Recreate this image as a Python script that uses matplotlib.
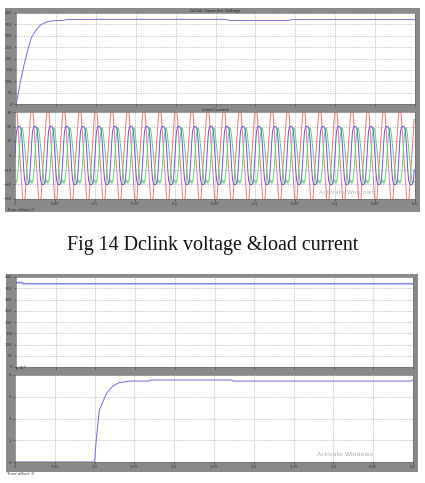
import numpy as np
import matplotlib
matplotlib.use("Agg")
import matplotlib.pyplot as plt
from matplotlib.patches import Rectangle

# ---------------- data ----------------
# DC link voltage (first scope)
vdc_t = [0, 0.002, 0.006, 0.010, 0.015, 0.019, 0.025, 0.031, 0.038, 0.046, 0.060,
         0.0625, 0.10, 0.20, 0.262, 0.268, 0.34, 0.346, 0.50]
vdc_v = [0, 30, 106, 170, 240, 290, 325, 348, 360, 366, 368,
         371, 372, 372, 372, 367, 367, 371, 371]

# load current, one 20 ms cycle sampled every 1 ms (three phases)
cycle_ms = list(range(20))
ia_cycle = [0, 10, 17, 19, 20, 20, 20, 19, 17, 10, 0, -10, -17, -19, -20, -20, -20, -19, -17, -10]
ib_cycle = [-17, -19, -18, -15, -9, 0, 9, 15, 18, 19, 17, 12, 6, 0, -6, -12, -17, -19, -19, -18]
ic_cycle = [30, 42, 34, 25, 17, 8, 0, -8, -17, -25, -34, -42, -34, -25, -17, -8, 0, 8, 17, 25]
n_cycles = 25

# second scope: DC link voltage
vdc2_t = [0, 0.008, 0.009, 0.50]
vdc2_v = [375, 375, 370, 370]

# second scope: lower trace (x 10^4)
p_t = [0, 0.100, 0.102, 0.106, 0.115, 0.123, 0.131, 0.144, 0.168, 0.170, 0.272, 0.274, 0.497, 0.500]
p_v = [0, 0, 1.0, 2.4, 3.15, 3.5, 3.65, 3.72, 3.72, 3.77, 3.77, 3.72, 3.72, 3.77]

x_ticks = [0, 0.05, 0.1, 0.15, 0.2, 0.25, 0.3, 0.35, 0.4, 0.45, 0.5]
x_tick_labels = ["0", "0.05", "0.1", "0.15", "0.2", "0.25", "0.3", "0.35", "0.4", "0.45", "0.5"]
v_ticks = [0, 50, 100, 150, 200, 250, 300, 350, 400]
i_ticks = [-30, -20, -10, 0, 10, 20, 30]
p_ticks = [0, 1, 2, 3, 4]

titles = ["Dclink Capacitor Voltage", "Load Current"]
caption = "Fig 14 Dclink voltage &load current"

# ---------------- figure ----------------
W, H = 425, 483
fig = plt.figure(figsize=(W / 100, H / 100), dpi=100)
fig.patch.set_facecolor("white")

def fx(px):
    return px / W

def fy(py):
    return 1 - py / H

frame_col = "#8a8a8a"
# gray scope frames
fig.patches.append(Rectangle((fx(5), fy(212)), fx(420) - fx(5), fy(8) - fy(212),
                             transform=fig.transFigure, facecolor=frame_col, edgecolor="none", zorder=-10))
fig.patches.append(Rectangle((fx(6), fy(472)), fx(418) - fx(6), fy(274) - fy(472),
                             transform=fig.transFigure, facecolor=frame_col, edgecolor="none", zorder=-10))

def make_ax(x0, y0, x1, y1):
    ax = fig.add_axes([fx(x0), fy(y1), fx(x1) - fx(x0), fy(y0) - fy(y1)])
    ax.set_zorder(1)
    ax.set_facecolor("white")
    for s in ax.spines.values():
        s.set_color("#666666")
        s.set_linewidth(0.4)
    ax.tick_params(axis="both", labelsize=2.8, colors="#333333", length=1.5, width=0.4, pad=1)
    ax.grid(True, color="#b4b4b4", linestyle=(0, (2, 1.5)), linewidth=0.5)
    ax.set_xlim(0, 0.5)
    return ax

gap_col = "#222222"

# Scope 1, plot 1
ax1 = make_ax(16, 13, 415, 104)
ax1.plot(vdc_t, vdc_v, color="#7272d8", linewidth=0.7)
ax1.set_ylim(0, 400)
ax1.set_yticks(v_ticks)
ax1.set_xticks(x_ticks)
ax1.set_xticklabels([])
ax1.set_title(titles[0], fontsize=3, color=gap_col, pad=1)

# Scope 1, plot 2
ax2 = make_ax(15, 112, 415, 199)
t = (np.arange(n_cycles * len(cycle_ms)) + 0.0) / 1000.0
ax2.plot(t, np.tile(ic_cycle, n_cycles), color="#f27080", linewidth=0.7)
ax2.plot(t, np.tile(ib_cycle, n_cycles), color="#60d470", linewidth=0.7)
ax2.plot(t, np.tile(ia_cycle, n_cycles), color="#5a5ae0", linewidth=0.7)
ax2.set_ylim(-30, 30)
ax2.set_yticks(i_ticks)
ax2.set_xticks(x_ticks)
ax2.set_xticklabels(x_tick_labels)
ax2.set_title(titles[1], fontsize=3, color=gap_col, pad=1)
ax2.text(0.83, 0.06, "Activate Windows", transform=ax2.transAxes, fontsize=4.5,
         color="#b8b8b8", ha="center")
fig.text(fx(7), fy(210), "Time offset: 0", fontsize=2.8, color="#333333", va="center")

# Scope 2, plot 1
ax3 = make_ax(16, 277, 413, 367)
ax3.plot(vdc2_t, vdc2_v, color="#8a8ae8", linewidth=1.2)
ax3.set_ylim(0, 400)
ax3.set_yticks(v_ticks)
ax3.set_xticks(x_ticks)
ax3.set_xticklabels([])

# Scope 2, plot 2
ax4 = make_ax(15, 375, 413, 462)
ax4.plot(p_t, p_v, color="#6a6ae0", linewidth=0.7)
ax4.set_ylim(0, 4)
ax4.set_yticks(p_ticks)
ax4.set_xticks(x_ticks)
ax4.set_xticklabels(x_tick_labels)
ax4.text(0.0, 1.02, "x 10$^4$", transform=ax4.transAxes, fontsize=2.8, color="#333333", va="bottom")
ax4.text(0.83, 0.07, "Activate Windows", transform=ax4.transAxes, fontsize=4.5,
         color="#a8a8a8", ha="center")
fig.text(fx(7), fy(474), "Time offset: 0", fontsize=2.8, color="#333333", va="center")

# caption
fig.text(0.5, fy(245), caption, fontsize=14.4, family="Liberation Serif",
         ha="center", va="center", color="#111111")

fig.savefig("out.png", dpi=100)
